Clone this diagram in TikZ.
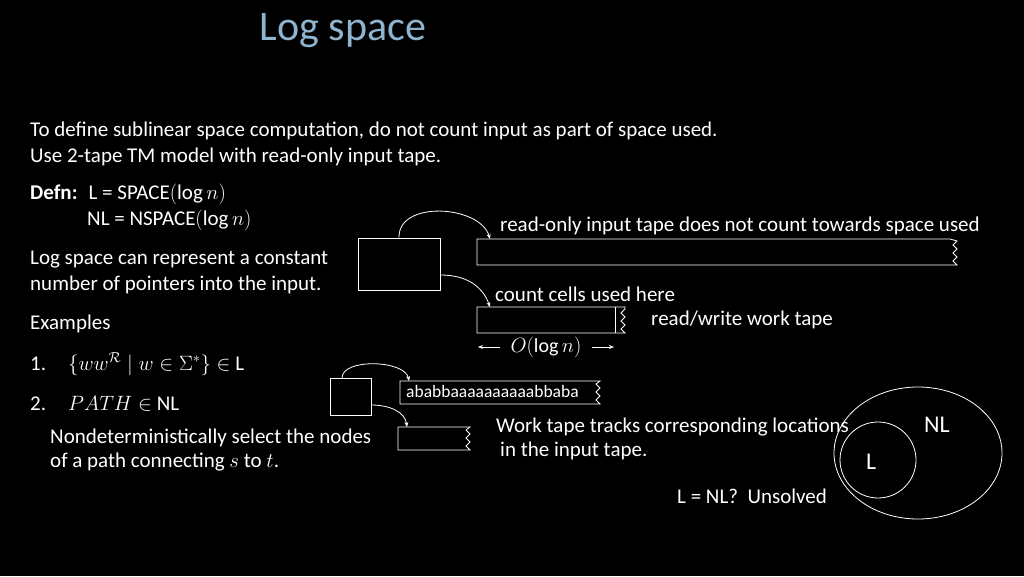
\documentclass[tikz,border=0pt]{standalone}
\usepackage{fontspec}
\setmainfont{Carlito}
\usepackage{amssymb}
\usetikzlibrary{arrows.meta}
\begin{document}
\begin{tikzpicture}[x=1pt,y=-1pt,
  txt/.style={text=white,font=\fontsize{21}{24}\selectfont,anchor=west,inner sep=0pt},
  ln/.style={draw=white,line width=0.8pt},
  arr/.style={ln,-{Stealth[length=5pt,width=4pt]}}]
\useasboundingbox[fill=black] (0,0) rectangle (1024,576);
\node[text={rgb,255:red,143;green,180;blue,208},font=\fontsize{42}{46}\selectfont] (title) at (343,31) {Log space};
\node[txt] (t1) at (30,131) {To define sublinear space computation, do not count input as part of space used.};
\node[txt] (t2) at (30,157) {Use 2-tape TM model with read-only input tape.};
\node[txt] (d1) at (30,194) {\textbf{Defn:} \ L = SPACE$(\log n)$};
\node[txt] (d2) at (87,220) {NL = NSPACE$(\log n)$};
\node[txt] (p1) at (30,260) {Log space can represent a constant};
\node[txt] (p2) at (30,285) {number of pointers into the input.};
\node[txt] (ex) at (30,324) {Examples};
\node[txt] (e1) at (30,364) {1.\hspace{22pt}$\bigl\{ww^{\mathcal R}\bigm|w\in\Sigma^*\bigr\}\in$ L};
\node[txt] (e2) at (30,404) {2.\hspace{22pt}$PATH\in$ NL};
\node[txt] (n1) at (50,438) {Nondeterministically select the nodes};
\node[txt] (n2) at (50,462) {of a path connecting $s$ to $t$.};
% control boxes
\node[ln,minimum width=82pt,minimum height=52pt,inner sep=0pt] (cb) at (399,264) {};
\node[ln,minimum width=41pt,minimum height=37pt,inner sep=0pt] (sb) at (350.5,396.5) {};
% tapes
\draw[ln] (950,239) -- (477,239) -- (477,265) -- (957,265) -- (953,261) -- (957,257) -- (953,253) -- (957,249) -- (953,245) -- (957,241) -- (950,239);
\coordinate (it) at (490,239);
\draw[ln] (625,307) -- (477,307) -- (477,333) -- (625,333) -- (621,329) -- (625,325) -- (621,321) -- (625,317) -- (621,313) -- (625,309) -- cycle;
\draw[ln] (615,307) -- (615,333);
\coordinate (wt) at (490,307);
\node[txt,font=\fontsize{17.5}{20}\selectfont] (abt) at (406,391) {ababbaaaaaaaaaabbaba};
\draw[ln] (600,381) -- (400,381) -- (400,404) -- (600,404) -- (596,400) -- (600,396) -- (596,392) -- (600,388) -- (596,384) -- cycle;
\coordinate (st) at (409,381);
\draw[ln] (470,427) -- (398,427) -- (398,450) -- (470,450) -- (466,446) -- (470,442) -- (466,438) -- (470,434) -- (466,430) -- cycle;
\coordinate (sw) at (407,427);
% arrows
\draw[arr] (cb.north) .. controls (398,200) and (480,205) .. (it);
\draw[arr] (cb.east |- 0,275) .. controls (465,275) and (482,285) .. (wt);
\draw[arr] (342,378) .. controls (342,358) and (405,360) .. (st);
\draw[arr] (371,405) .. controls (390,405) and (405,412) .. (sw);
% labels
\node[txt] (l1) at (500,226) {read-only input tape does not count towards space used};
\node[txt] (l2) at (495,294) {count cells used here};
\node[txt] (l3) at (651,320) {read/write work tape};
\node[text=white,font=\fontsize{20}{24}\selectfont] (ol) at (546,347) {$O(\log n)$};
\draw[arr,line width=0.6pt] (500,347) -- (478,347);
\draw[arr,line width=0.6pt] (592,347) -- (614,347);
\node[txt] (w1) at (496,427) {Work tape tracks corresponding locations};
\node[txt] (w2) at (500,451) {in the input tape.};
% ellipses
\draw[ln] (918,453) ellipse [x radius=84pt, y radius=66pt];
\draw[ln] (878,460) circle [radius=38pt];
\node[txt,font=\fontsize{24}{26}\selectfont] (nl) at (924,425) {NL};
\node[txt,font=\fontsize{24}{26}\selectfont] (ll) at (866,462) {L};
\node[txt] (uq) at (677,496) {L = NL?\ \ Unsolved};
\end{tikzpicture}
\end{document}
